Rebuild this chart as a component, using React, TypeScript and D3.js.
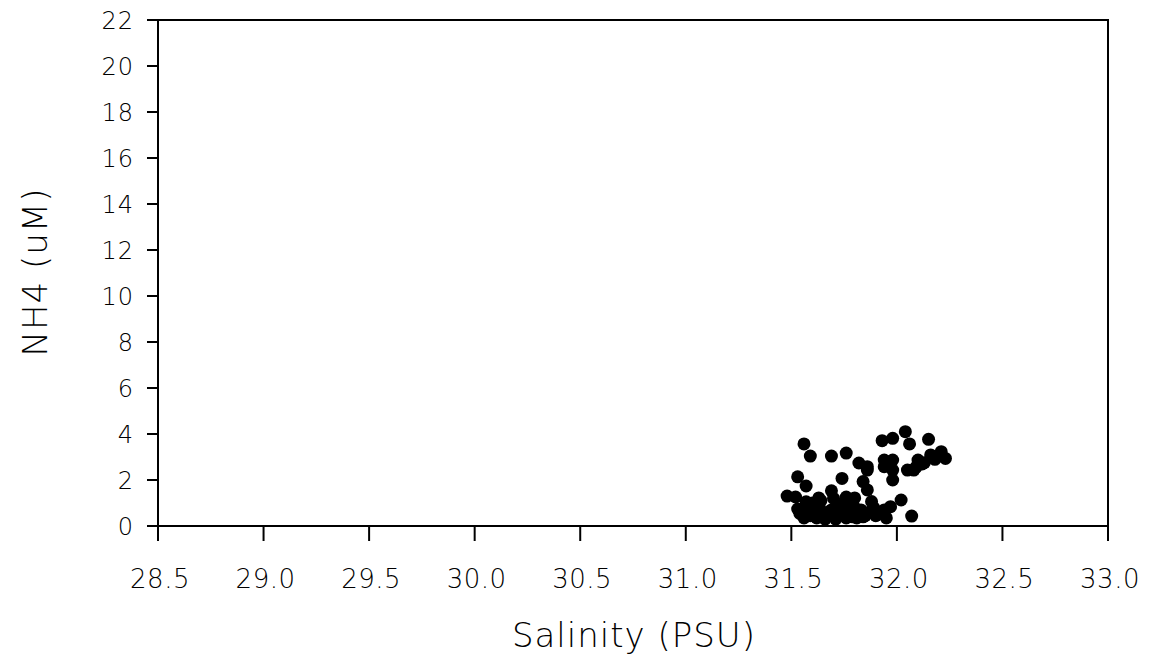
import { useEffect, useRef } from 'react';
import * as d3 from 'd3';

const salinity = [
  31.56, 31.59, 31.69, 31.76, 31.53, 31.74, 31.57, 31.48, 31.52, 31.69,
  31.63, 31.82, 31.86, 31.84, 31.86, 31.76, 31.80, 31.53, 31.93, 31.98,
  32.04, 32.06, 32.15, 31.94, 31.98, 31.94, 31.98, 31.86, 32.05, 32.10,
  32.16, 32.21, 32.23, 31.98, 32.02, 31.88, 31.97, 32.07, 32.08, 32.12,
  32.18, 31.54, 31.56, 31.58, 31.59, 31.61, 31.62, 31.63, 31.65, 31.66,
  31.68, 31.69, 31.71, 31.72, 31.73, 31.75, 31.76, 31.78, 31.79, 31.80,
  31.82, 31.83, 31.85, 31.87, 31.89, 31.90, 31.92, 31.94, 31.95, 31.60,
  31.64, 31.70, 31.74, 31.78, 32.09, 32.13, 31.57, 31.67, 31.77, 31.84,
  31.91, 31.61, 31.71, 31.81
];
const nh4 = [
  3.57, 3.04, 3.04, 3.17, 2.14, 2.07, 1.74, 1.30, 1.26, 1.53,
  1.22, 2.74, 2.58, 1.93, 1.57, 1.26, 1.22, 0.74, 3.71, 3.81,
  4.10, 3.57, 3.77, 2.87, 2.87, 2.58, 2.43, 2.43, 2.43, 2.87,
  3.09, 3.23, 2.94, 2.00, 1.13, 1.06, 0.84, 0.43, 2.43, 2.70,
  2.90, 0.55, 0.35, 0.80, 0.45, 0.60, 0.35, 0.90, 0.50, 0.30,
  0.45, 0.70, 0.40, 0.60, 0.85, 0.50, 0.35, 0.65, 0.40, 0.80,
  0.50, 0.70, 0.45, 0.60, 0.80, 0.45, 0.55, 0.70, 0.35, 1.00,
  1.10, 1.20, 0.95, 1.05, 2.55, 2.75, 1.05, 0.60, 0.75, 0.40,
  0.60, 0.55, 0.30, 0.35
];
const xTicks = [28.5, 29.0, 29.5, 30.0, 30.5, 31.0, 31.5, 32.0, 32.5, 33.0];
const yTicks = [0, 2, 4, 6, 8, 10, 12, 14, 16, 18, 20, 22];

const W = 1150;
const H = 662;
const FONT = '"DejaVu Sans", "Noto Sans", sans-serif';

export default function App() {
  const svgRef = useRef<SVGSVGElement>(null);

  useEffect(() => {
    if (!svgRef.current) return;
    const svg = d3.select(svgRef.current);
    svg.selectAll('*').remove();

    const left = 158, right = 1108, top = 20, bottom = 526;
    const x = d3.scaleLinear().domain([28.5, 33.0]).range([left, right]);
    const y = d3.scaleLinear().domain([0, 22]).range([bottom, top]);

    const txt = (sel: any, size: number) =>
      sel.style('font-family', FONT).style('font-size', size + 'px')
        .style('font-weight', 200).attr('fill', '#000');

    // frame
    svg.append('rect')
      .attr('x', left).attr('y', top)
      .attr('width', right - left).attr('height', bottom - top)
      .attr('fill', 'none').attr('stroke', '#000').attr('stroke-width', 2);

    // y ticks
    const yg = svg.append('g');
    yTicks.forEach(t => {
      yg.append('line')
        .attr('x1', left - 11).attr('x2', left)
        .attr('y1', y(t)).attr('y2', y(t))
        .attr('stroke', '#000').attr('stroke-width', 2);
      txt(yg.append('text')
        .attr('x', left - 24).attr('y', y(t) + 9)
        .attr('text-anchor', 'end'), 24)
        .style('letter-spacing', '1px')
        .text(String(t));
    });

    // x ticks
    const xg = svg.append('g');
    xTicks.forEach(t => {
      xg.append('line')
        .attr('x1', x(t)).attr('x2', x(t))
        .attr('y1', bottom).attr('y2', bottom + 15)
        .attr('stroke', '#000').attr('stroke-width', 2);
      txt(xg.append('text')
        .attr('x', x(t) + 2).attr('y', 588)
        .attr('text-anchor', 'middle'), 26)
        .style('letter-spacing', '0.5px')
        .text(t.toFixed(1));
    });

    // axis titles
    txt(svg.append('text')
      .attr('x', 634).attr('y', 647)
      .attr('text-anchor', 'middle'), 34)
      .style('letter-spacing', '1px')
      .text('Salinity (PSU)');
    txt(svg.append('text')
      .attr('transform', `translate(47, 272) rotate(-90)`)
      .attr('text-anchor', 'middle'), 34)
      .style('letter-spacing', '1px')
      .text('NH4 (uM)');

    // points
    svg.append('g')
      .selectAll('circle')
      .data(salinity.map((s, i) => [s, nh4[i]]))
      .enter()
      .append('circle')
      .attr('cx', d => x(d[0]))
      .attr('cy', d => y(d[1]))
      .attr('r', 6.5)
      .attr('fill', '#000');
  }, []);

  return (
    <svg
      ref={svgRef}
      width={W}
      height={H}
      style={{ position: 'absolute', left: 0, top: 0, background: '#fff', display: 'block' }}
    />
  );
}
